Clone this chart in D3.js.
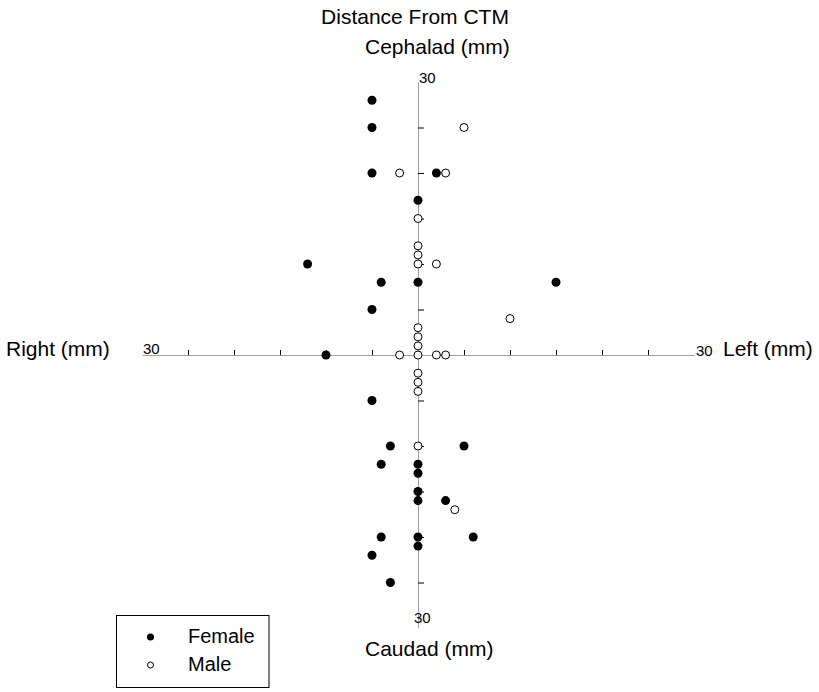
<!DOCTYPE html>
<html>
<head>
<meta charset="utf-8">
<script src="https://cdn.jsdelivr.net/npm/d3@7"></script>
<style>
  body { margin: 0; background: #fff; }
  text { font-family: "Liberation Sans", Arial, sans-serif; fill: #000; }
</style>
</head>
<body>
<div id="chart"></div>
<script>
// Distance from CTM, mm. x: negative = Right, positive = Left. y: positive = Cephalad
const femaleX = [-5, -5, -5, 2, 0, -12, -4, 0, 15, -5, -10, -5, -3, 5, -4, 0, 0, 0, 0, 3, -4, 0, 6, 0, -5, -3];
const femaleY = [28, 25, 20, 20, 17, 10, 8, 8, 8, 5, 0, -5, -10, -10, -12, -12, -13, -15, -16, -16, -20, -20, -20, -21, -22, -25];
const maleX = [5, -2, 3, 0, 0, 0, 0, 2, 10, 0, 0, 0, 0, -2, 2, 3, 0, 0, 0, 0, 4];
const maleY = [25, 20, 20, 15, 12, 11, 10, 10, 4, 3, 2, 1, 0, 0, 0, 0, -2, -3, -4, -10, -17];
const tickValues = [-25, -20, -15, -10, -5, 5, 10, 15, 20, 25];
const axisMax = 30;

let width = 819;
let height = 692;

var svg = d3.select("#chart")
    .append("svg")
    .attr("width", width)
    .attr("height", height);

const x = d3.scaleLinear().domain([-axisMax, axisMax]).range([142, 694]);
const y = d3.scaleLinear().domain([-axisMax, axisMax]).range([628, 82]);

// horizontal axis, ticks pointing up
let xAxis = svg.append("g")
    .attr("transform", `translate(0,${y(0)})`)
    .call(d3.axisTop(x).tickValues(tickValues).tickSizeInner(5).tickSizeOuter(0).tickFormat(""));

// vertical axis, ticks pointing right
let yAxis = svg.append("g")
    .attr("transform", `translate(${x(0)},0)`)
    .call(d3.axisRight(y).tickValues(tickValues).tickSizeInner(6).tickSizeOuter(0).tickFormat(""));

[xAxis, yAxis].forEach(a => {
    a.select(".domain").attr("stroke", "#a0a0a0");
    a.selectAll(".tick line").attr("stroke", "#000");
});

// end labels
svg.append("text").attr("x", x(-axisMax) + 1).attr("y", y(0) - 1).attr("font-size", "15px").text(axisMax);
svg.append("text").attr("x", x(axisMax) + 2).attr("y", y(0) + 1).attr("font-size", "15px").text(axisMax);
svg.append("text").attr("x", x(0) + 1).attr("y", y(axisMax) + 1).attr("font-size", "15px").text(axisMax);
svg.append("text").attr("x", x(0) - 4).attr("y", y(-axisMax) - 5).attr("font-size", "15px").text(axisMax);

// titles
svg.append("text").attr("x", 415).attr("y", 24).attr("text-anchor", "middle").attr("font-size", "21px").text("Distance From CTM");
svg.append("text").attr("x", 365).attr("y", 54).attr("font-size", "21px").text("Cephalad (mm)");
svg.append("text").attr("x", 365).attr("y", 656).attr("font-size", "21px").text("Caudad (mm)");
svg.append("text").attr("x", 6).attr("y", 356).attr("font-size", "21px").text("Right (mm)");
svg.append("text").attr("x", 723).attr("y", 356).attr("font-size", "21px").text("Left (mm)");

// points
svg.append("g").selectAll("circle")
    .data(maleX.map((d, i) => ({x: d, y: maleY[i]})))
    .join("circle")
    .attr("cx", d => x(d.x))
    .attr("cy", d => y(d.y))
    .attr("r", 4)
    .attr("fill", "#fff")
    .attr("stroke", "#000")
    .attr("stroke-width", 1);

svg.append("g").selectAll("circle")
    .data(femaleX.map((d, i) => ({x: d, y: femaleY[i]})))
    .join("circle")
    .attr("cx", d => x(d.x))
    .attr("cy", d => y(d.y))
    .attr("r", 4.5)
    .attr("fill", "#000");

// legend
let legend = svg.append("g");
legend.append("rect")
    .attr("x", 116.5).attr("y", 615.5)
    .attr("width", 152.5).attr("height", 72)
    .attr("fill", "none").attr("stroke", "#000");
legend.append("circle").attr("cx", 150.5).attr("cy", 637).attr("r", 3.5).attr("fill", "#000");
legend.append("circle").attr("cx", 150.5).attr("cy", 665).attr("r", 3)
    .attr("fill", "#fff").attr("stroke", "#000");
legend.append("text").attr("x", 188).attr("y", 643).attr("font-size", "20px").text("Female");
legend.append("text").attr("x", 188).attr("y", 671).attr("font-size", "20px").text("Male");
</script>
</body>
</html>
